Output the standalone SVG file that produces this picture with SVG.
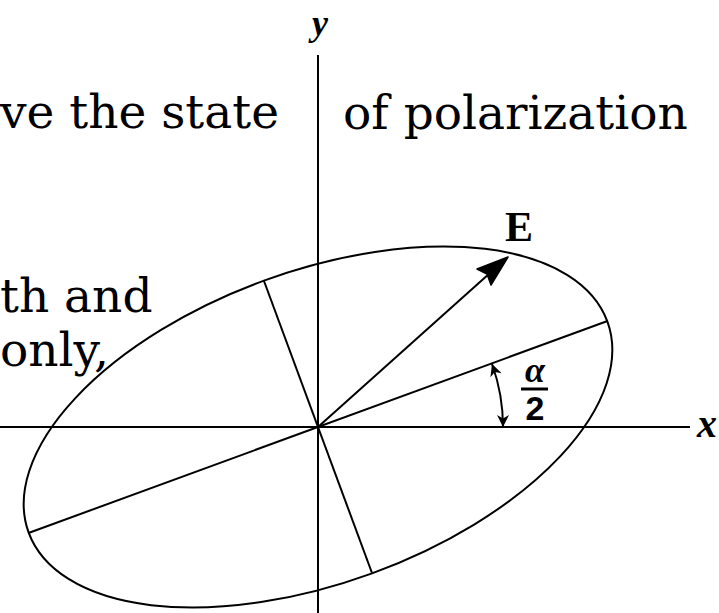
<svg xmlns="http://www.w3.org/2000/svg" width="719" height="613" viewBox="0 0 719 613">
<defs>
<style>
.ln{stroke:#000;fill:none;stroke-width:2}
.txt{font-family:"DejaVu Serif",serif;font-size:47px;fill:#000}
.lbl{font-family:"Liberation Serif",serif;font-weight:bold;font-style:italic;fill:#000}
</style>
<marker id="ah" viewBox="0 0 10 10" refX="10" refY="5" markerWidth="18" markerHeight="12" orient="auto-start-reverse" markerUnits="userSpaceOnUse">
<path d="M0,0 L10,5 L0,10 L3,5 Z" fill="#000"/>
</marker>
</defs>
<rect width="719" height="613" fill="#fff"/>
<g id="text">
<text class="txt" x="0" y="128">ve the state</text>
<text class="txt" x="343" y="129">of polarization</text>
<text class="txt" x="0" y="312" font-size="42">th and</text>
<text class="txt" x="0" y="366" font-size="38">only,</text>
</g>
<g id="axes">
<line class="ln" x1="0" y1="427" x2="690" y2="427" stroke-width="2.8"/>
<line class="ln" x1="318" y1="55" x2="318" y2="613" stroke-width="2.8"/>
<text class="lbl" x="707" y="437" font-size="40" text-anchor="middle">x</text>
<text class="lbl" x="320" y="35" font-size="36" text-anchor="middle">y</text>
</g>
<g id="ellipse">
<ellipse class="ln" cx="318" cy="427" rx="308" ry="156" transform="rotate(-20 318 427)" stroke-width="2.6"/>
</g>
<g id="connectors">
<line class="ln" x1="28.5" y1="533" x2="607.5" y2="321" stroke-width="2"/>
<line class="ln" x1="264" y1="281" x2="372" y2="573" stroke-width="2"/>
<line class="ln" x1="318" y1="427" x2="490" y2="273" stroke-width="5"/>
<path d="M508,257 L477,269 L487,274 L491,285 Z" fill="#000" stroke="#000" stroke-width="1.5" stroke-linejoin="round"/>
<path class="ln" d="M492,364 A185,185 0 0 1 503,427" stroke-width="2.4" marker-start="url(#ah)" marker-end="url(#ah)"/>
</g>
<g id="E">
<text x="519" y="241" font-family="'Liberation Serif',serif" font-weight="bold" font-size="42" text-anchor="middle">E</text>
</g>
<g id="alpha">
<text x="535" y="382" font-family="'Liberation Serif',serif" font-weight="bold" font-style="italic" font-size="36" text-anchor="middle">α</text>
<line x1="521" y1="389" x2="548" y2="389" stroke="#000" stroke-width="3"/>
<text x="535" y="420" font-family="'Liberation Sans',sans-serif" font-weight="bold" font-size="34" text-anchor="middle">2</text>
</g>
</svg>
